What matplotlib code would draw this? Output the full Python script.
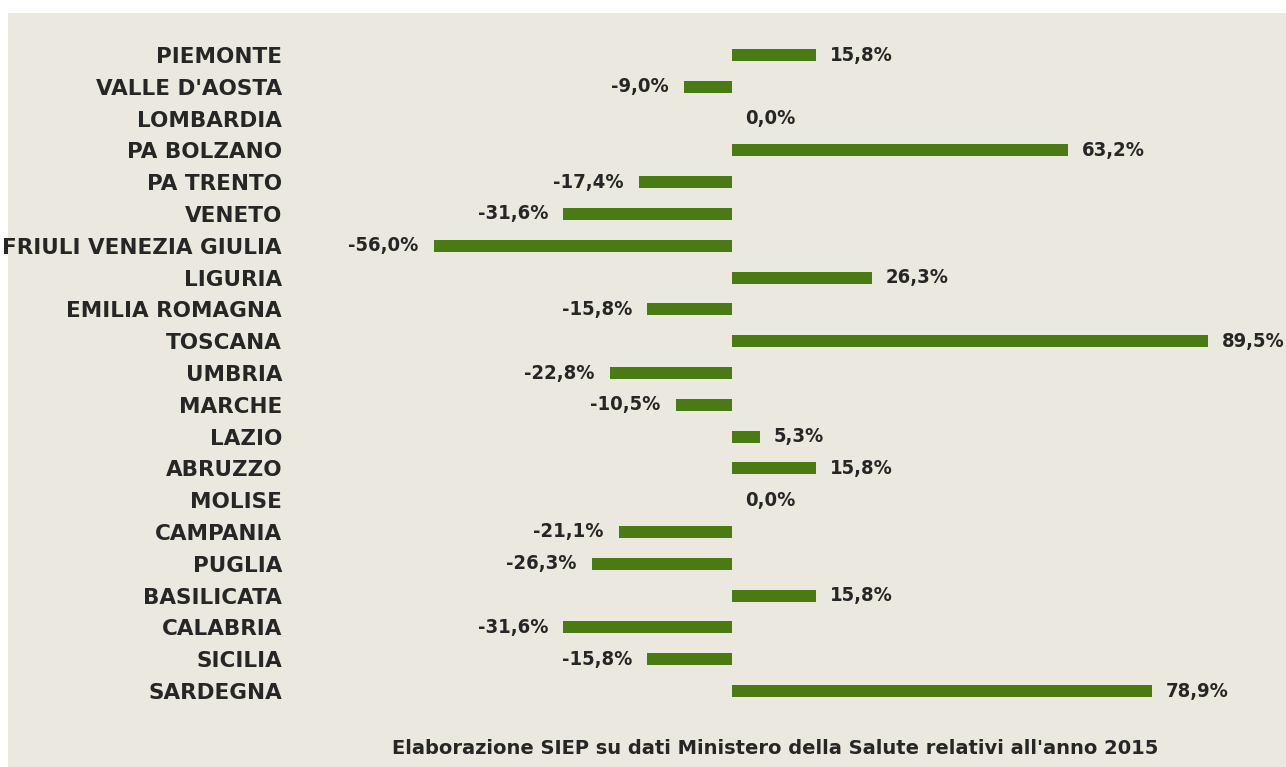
import matplotlib
matplotlib.use("Agg")
import matplotlib.pyplot as plt
from matplotlib.patches import Rectangle

regions = [
    "PIEMONTE", "VALLE D'AOSTA", "LOMBARDIA", "PA BOLZANO", "PA TRENTO",
    "VENETO", "FRIULI VENEZIA GIULIA", "LIGURIA", "EMILIA ROMAGNA", "TOSCANA",
    "UMBRIA", "MARCHE", "LAZIO", "ABRUZZO", "MOLISE", "CAMPANIA", "PUGLIA",
    "BASILICATA", "CALABRIA", "SICILIA", "SARDEGNA",
]
values = [
    15.8, -9.0, 0.0, 63.2, -17.4, -31.6, -56.0, 26.3, -15.8, 89.5,
    -22.8, -10.5, 5.3, 15.8, 0.0, -21.1, -26.3, 15.8, -31.6, -15.8, 78.9,
]
caption = "Elaborazione SIEP su dati Ministero della Salute relativi all'anno 2015"

W, H = 1286, 767
bg = "#ebe8df"
green = "#4a7a14"
txt = "#262626"

fig = plt.figure(figsize=(W / 100, H / 100), dpi=100)
fig.patch.set_facecolor("white")
fig.patches.append(Rectangle((8 / W, 0), 1 - 8 / W, (H - 13) / H,
                             transform=fig.transFigure, facecolor=bg,
                             edgecolor="none", zorder=-10))

# axes placed so zero sits near x=732 px, rows from y=55 to y=691 px
x0, x1 = 433.5, 1208.0
y_top, y_bot = 39.1, 706.9
ax = fig.add_axes([x0 / W, (H - y_bot) / H, (x1 - x0) / W, (y_bot - y_top) / H])
ax.set_facecolor("none")
ax.set_zorder(5)

pos = list(range(len(regions)))
ax.barh(pos, values, height=0.38, color=green, zorder=2)
ax.set_xlim(-56, 89.5)
ax.set_ylim(len(regions) - 0.5, -0.5)

ax.set_yticks(pos)
ax.set_yticklabels(regions, fontsize=15.5, fontweight="bold", color=txt)
ax.tick_params(axis="y", length=0, pad=109)
ax.set_xticks([])
for s in ax.spines.values():
    s.set_visible(False)

for p, v in zip(pos, values):
    lab = f"{v:.1f}%".replace(".", ",")
    off, ha = (-11, "right") if v < 0 else (10, "left")
    ax.annotate(lab, (v, p), xytext=(off, 0), textcoords="offset points",
                ha=ha, va="center", fontsize=14.5, fontweight="bold",
                color=txt, fontstretch="condensed")

fig.text(775 / W, 1 - 748 / H, caption, ha="center", va="center",
         fontsize=14, fontweight="bold", color=txt)

fig.savefig("out.png", dpi=100)
